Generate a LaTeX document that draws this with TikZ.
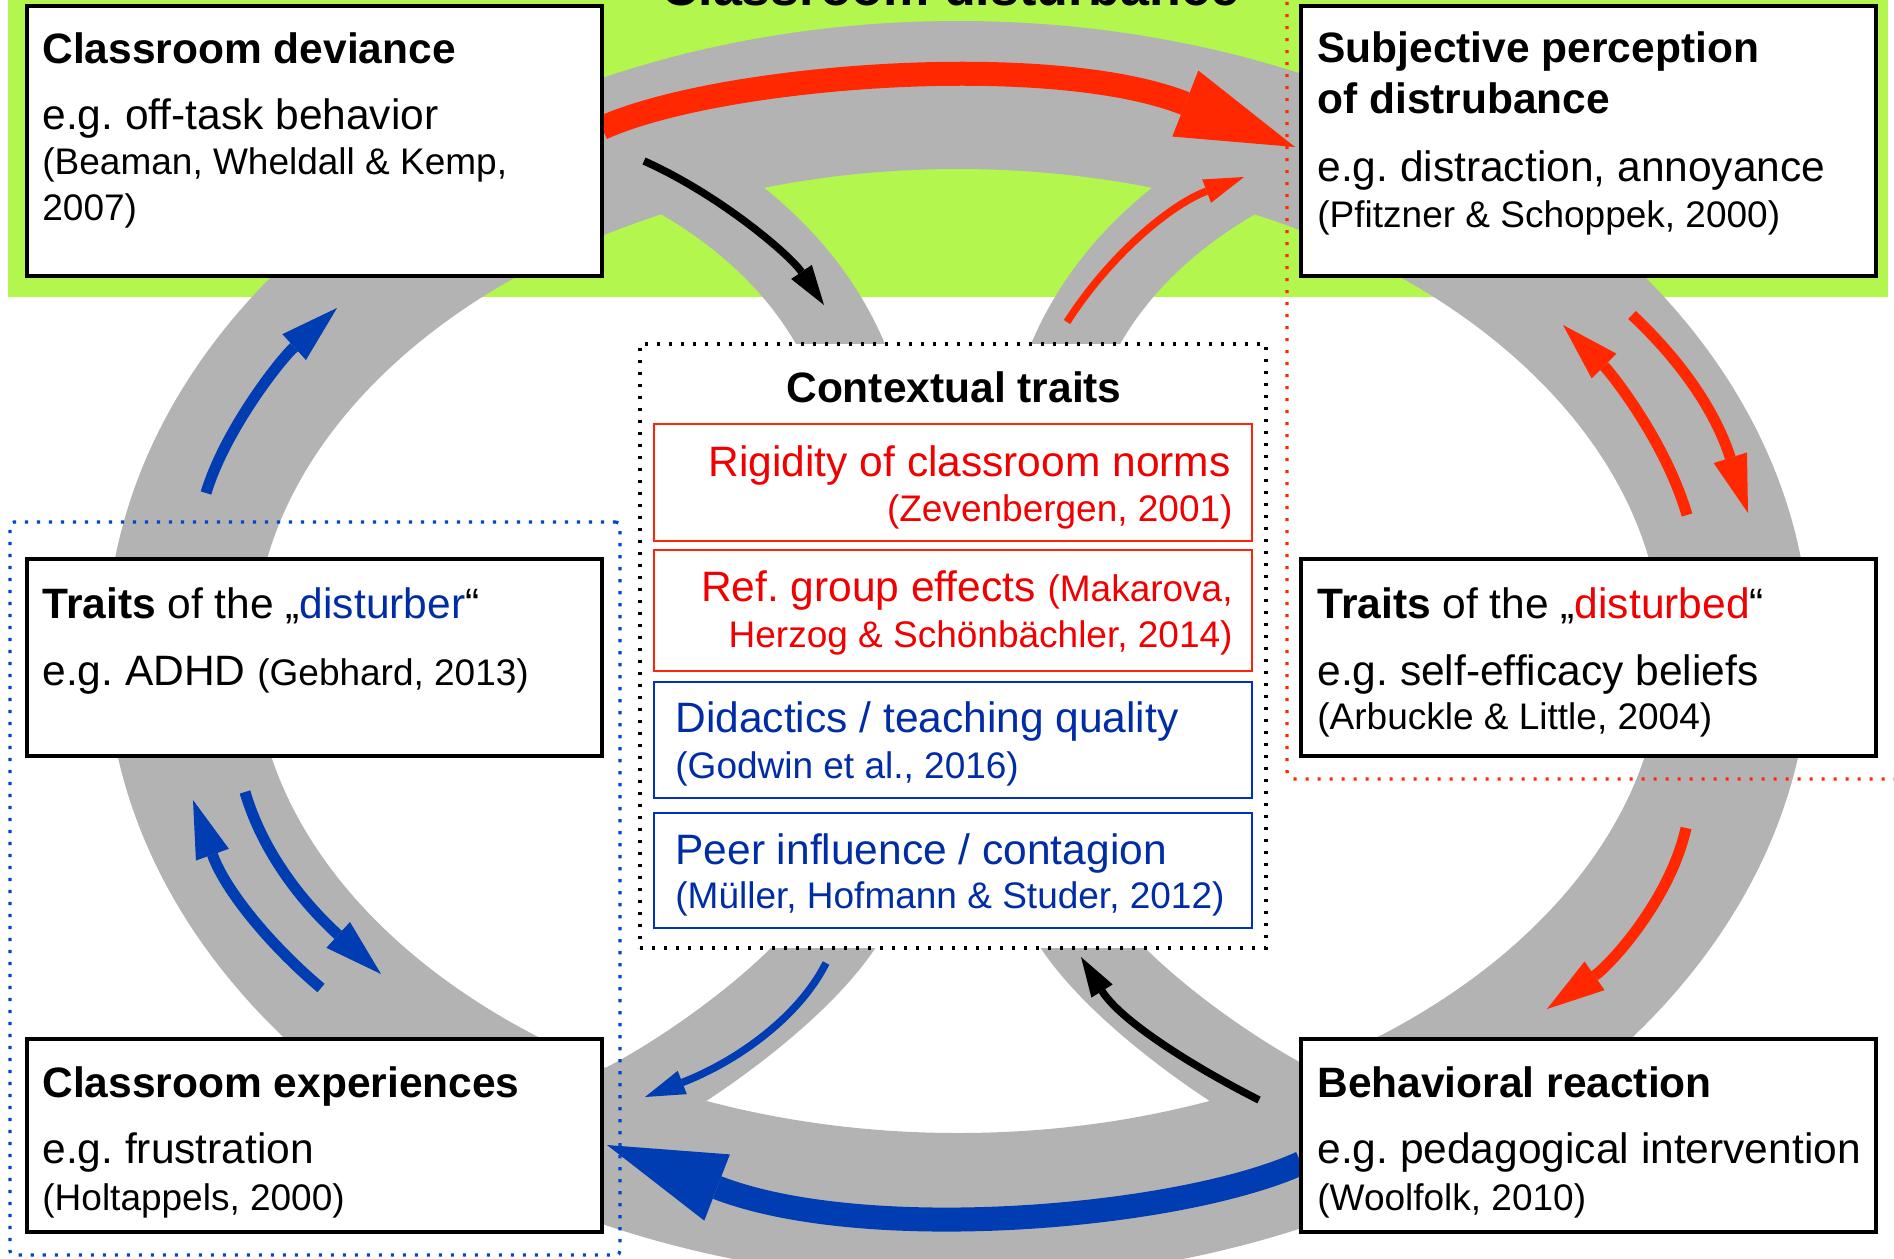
\documentclass[tikz,border=0pt]{standalone}
\usepackage{fontspec}
\setmainfont{Liberation Sans}
\usetikzlibrary{arrows.meta}
\frenchspacing

\definecolor{bggreen}{RGB}{178,246,78}
\definecolor{ringgray}{RGB}{179,179,179}
\definecolor{arrred}{RGB}{255,40,0}
\definecolor{arrblue}{RGB}{0,61,178}
\definecolor{txtred}{RGB}{240,0,0}
\definecolor{txtblue}{RGB}{0,45,165}
\definecolor{boxred}{RGB}{255,35,10}
\definecolor{boxblue}{RGB}{0,50,190}
\definecolor{dotblue}{RGB}{0,70,200}
\definecolor{dotred}{RGB}{255,40,0}

\newcommand{\mainsz}{\fontsize{21.25pt}{25pt}\selectfont}
\newcommand{\citesz}{\fontsize{18.5pt}{22pt}\selectfont}
\newcommand{\headsz}{\fontsize{26pt}{30pt}\selectfont}

\begin{document}
\begin{tikzpicture}[x=0.5pt, y=-0.5pt,
  box/.style={draw=black, line width=2.25pt, fill=white, rectangle, inner sep=0pt,
    minimum width=287.5pt},
  ctxbox/.style={line width=1.4pt, fill=white, rectangle, inner sep=0pt,
    minimum width=299pt},
  txt/.style={anchor=base west, inner sep=0pt, font=\mainsz},
  cit/.style={anchor=base west, inner sep=0pt, font=\citesz},
  band/.style={draw=ringgray, line width=74pt},
  branch/.style={draw=ringgray, line width=40pt},
  bigarrow/.style={line width=12pt, -{Triangle[length=59pt,width=35.5pt,line width=0pt]}},
  midarrow/.style={line width=5.5pt, -{Triangle[length=29pt,width=17.5pt,line width=0pt]}},
  thinarrow/.style={line width=3.75pt, -{Triangle[length=20pt,width=12.5pt,line width=0pt]}},
  dots/.style={line width=1.6pt, dash pattern=on 1.6pt off 4.4pt},
]
\useasboundingbox (0,0) rectangle (1894,1258);
\clip (0,0) rectangle (1894,1258);

% green band behind the upper half
\fill[bggreen] (8,-10) rectangle (1888,297);
\node[font=\headsz\bfseries, anchor=base, inner sep=0pt] (title) at (950,5) {Classroom disturbance};

% grey cycle and the two inner branches
\draw[band] (958,651) ellipse [x radius=389pt, y radius=278pt];
\draw[branch] (640,158) .. controls (760,215) and (835,300) .. (862,400)
  -- (862,880) .. controls (850,960) and (683,1077) .. (610,1110);
\draw[branch] (1276,158) .. controls (1156,215) and (1081,300) .. (1054,400)
  -- (1054,880) .. controls (1066,960) and (1233,1077) .. (1306,1110);

% arrow end points
\coordinate (a1s) at (602,128);   \coordinate (a1e) at (1295,147);
\coordinate (b1s) at (644,161);   \coordinate (b1e) at (824,305);
\coordinate (c1s) at (1067,322);  \coordinate (c1e) at (1244,177);
\coordinate (d1s) at (206,493);   \coordinate (d1e) at (337,308);
\coordinate (e1s) at (1687,515);  \coordinate (e1e) at (1563,325);
\coordinate (e2s) at (1632,315);  \coordinate (e2e) at (1748,513);
\coordinate (f1s) at (1686,828);  \coordinate (f1e) at (1547,1009);
\coordinate (g1s) at (321,988);   \coordinate (g1e) at (193,800);
\coordinate (g2s) at (245,792);   \coordinate (g2e) at (381,974);
\coordinate (h1s) at (826,963);   \coordinate (h1e) at (645,1097);
\coordinate (i1s) at (1259,1100); \coordinate (i1e) at (1081,957);
\coordinate (j1s) at (1301,1163); \coordinate (j1e) at (607,1145);

% arrows
\draw[bigarrow, arrred] (a1s) .. controls (720,75) and (1050,50) .. (a1e);
\draw[thinarrow, black] (b1s) .. controls (720,195) and (790,255) .. (b1e);
\draw[thinarrow, arrred] (c1s) .. controls (1110,255) and (1170,205) .. (c1e);
\draw[midarrow, arrblue] (d1s) .. controls (225,430) and (280,360) .. (d1e);
\draw[midarrow, arrred] (e1s) .. controls (1665,440) and (1610,372) .. (e1e);
\draw[midarrow, arrred] (e2s) .. controls (1680,360) and (1715,410) .. (e2e);
\draw[midarrow, arrred] (f1s) .. controls (1670,900) and (1610,965) .. (f1e);
\draw[midarrow, arrblue] (g1s) .. controls (270,945) and (225,890) .. (g1e);
\draw[midarrow, arrblue] (g2s) .. controls (262,850) and (300,900) .. (g2e);
\draw[thinarrow, arrblue] (h1s) .. controls (800,1015) and (740,1060) .. (h1e);
\draw[thinarrow, black] (i1s) .. controls (1190,1065) and (1120,1020) .. (i1e);
\draw[bigarrow, arrblue] (j1s) .. controls (1180,1218) and (866,1245) .. (j1e);

% the six boxes
\node[box, minimum height=135pt] (dev) at (314.5,141) {};
\node[box, minimum height=135pt] (subj) at (1588.5,141) {};
\node[box, minimum height=98.5pt] (dister) at (314.5,657.5) {};
\node[box, minimum height=98.5pt] (disted) at (1588.5,657.5) {};
\node[box, minimum height=96.5pt] (exper) at (314.5,1135.5) {};
\node[box, minimum height=96.5pt] (behav) at (1588.5,1135.5) {};

% contextual traits
\node[dots, draw=black, fill=white, rectangle, inner sep=0pt,
  minimum width=313pt, minimum height=302pt] (ctx) at (953,646) {};
\node[ctxbox, draw=boxred, minimum height=58.5pt] (ctxA) at (953,482.5) {};
\node[ctxbox, draw=boxred, minimum height=60.5pt] (ctxB) at (953,610.5) {};
\node[ctxbox, draw=boxblue, minimum height=58pt] (ctxC) at (953,740) {};
\node[ctxbox, draw=boxblue, minimum height=57.5pt] (ctxD) at (953,870.5) {};

% group frames
\node[dots, draw=dotblue, rectangle, rounded corners=2pt, inner sep=0pt,
  minimum width=305pt, minimum height=366.5pt] (grpA) at (315,888.5) {};
\draw[dots, dotred, rounded corners=4pt] (1287,-10) -- (1287,779) -- (1910,779);

% box texts
\node[txt] (devT) at (42,63) {\bfseries Classroom deviance};
\node[txt] (devE) at (42,129) {e.g. off-task behavior};
\node[cit] (devC1) at (42,174) {(Beaman, Wheldall \& Kemp,};
\node[cit] (devC2) at (42,220) {2007)};

\node[txt] (subT1) at (1317,62) {\bfseries Subjective perception};
\node[txt] (subT2) at (1317,113) {\bfseries of distrubance};
\node[txt] (subE) at (1317,181) {e.g. distraction, annoyance};
\node[cit] (subC) at (1317,227) {(Pfitzner \& Schoppek, 2000)};

\node[txt] (dtrT) at (42,618) {\textbf{Traits} of the „\textcolor{txtblue}{disturber}“};
\node[txt] (dtrE) at (42,685) {e.g. ADHD {\citesz (Gebhard, 2013)}};

\node[txt] (dtdT) at (1317,618) {\textbf{Traits} of the „\textcolor{txtred}{disturbed}“};
\node[txt] (dtdE) at (1317,685) {e.g. self-efficacy beliefs};
\node[cit] (dtdC) at (1317,729) {(Arbuckle \& Little, 2004)};

\node[txt] (expT) at (42,1097) {\bfseries Classroom experiences};
\node[txt] (expE) at (42,1163) {e.g. frustration};
\node[cit] (expC) at (42,1210) {(Holtappels, 2000)};

\node[txt] (behT) at (1317,1097) {\bfseries Behavioral reaction};
\node[txt] (behE) at (1317,1163) {e.g. pedagogical intervention};
\node[cit] (behC) at (1317,1210) {(Woolfolk, 2010)};

% contextual texts
\node[font=\mainsz\bfseries, anchor=base, inner sep=0pt] (ctxT) at (954,402) {Contextual traits};
\node[txt, anchor=base east, text=txtred] (ctxA1) at (1231,476) {Rigidity of classroom norms};
\node[cit, anchor=base east, text=txtred] (ctxA2) at (1233,521) {(Zevenbergen, 2001)};
\node[txt, anchor=base east, text=txtred] (ctxB1) at (1233,601) {Ref. group effects {\citesz (Makarova,}};
\node[cit, anchor=base east, text=txtred] (ctxB2) at (1233,647) {Herzog \& Schönbächler, 2014)};
\node[txt, text=txtblue] (ctxC1) at (675,732) {Didactics / teaching quality};
\node[cit, text=txtblue] (ctxC2) at (675,778) {(Godwin et al., 2016)};
\node[txt, text=txtblue] (ctxD1) at (675,864) {Peer influence / contagion};
\node[cit, text=txtblue] (ctxD2) at (675,908) {(Müller, Hofmann \& Studer, 2012)};
\end{tikzpicture}
\end{document}
